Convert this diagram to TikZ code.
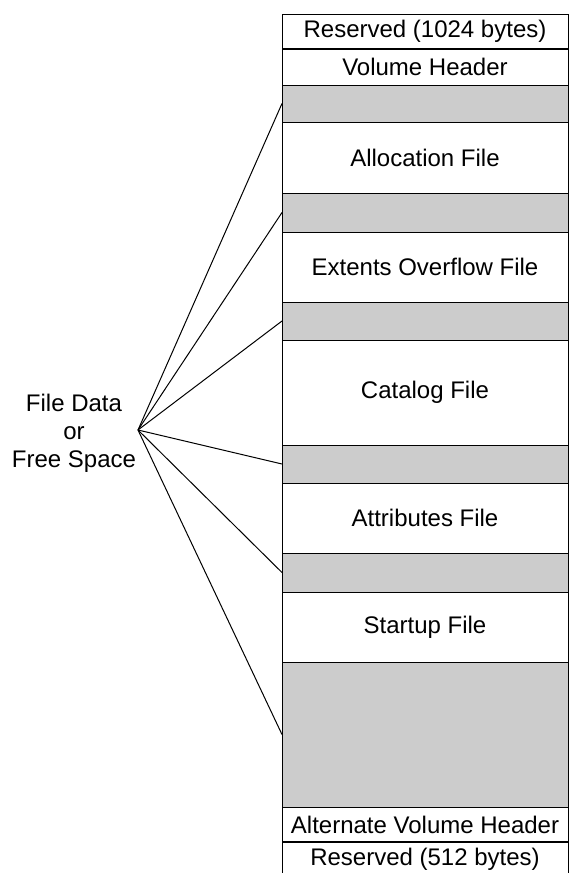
\documentclass[tikz,border=0pt]{standalone}
\usepackage{fontspec}
\setmainfont{Liberation Sans}
\definecolor{bandgrey}{RGB}{204,204,204}
\begin{document}
\begin{tikzpicture}[x=1pt,y=-1pt,
  band/.style={draw=black, line width=1pt, minimum width=286pt, anchor=north west,
    inner sep=0pt, outer sep=0pt, font=\fontsize{24}{28}\selectfont},
  free/.style={band, fill=bandgrey},
  used/.style={band, fill=white},
  link/.style={draw=black, line width=1pt}]
\useasboundingbox (0,0) rectangle (569,873);
\node[used, minimum height=35pt] (res1) at (282,14) {Reserved (1024 bytes)};
\node[used, minimum height=36pt] (vh) at (282,49) {Volume Header};
\node[free, minimum height=37pt] (g1) at (282,85) {};
\node[used, minimum height=71pt] (alloc) at (282,122) {Allocation File};
\node[free, minimum height=39pt] (g2) at (282,193) {};
\node[used, minimum height=70pt] (ext) at (282,232) {Extents Overflow File};
\node[free, minimum height=38pt] (g3) at (282,302) {};
\node[used, minimum height=105pt] (cat) at (282,340) {Catalog File};
\node[free, minimum height=38pt] (g4) at (282,445) {};
\node[used, minimum height=70pt] (attr) at (282,483) {Attributes File};
\node[free, minimum height=39pt] (g5) at (282,553) {};
\node[used, minimum height=70pt] (start) at (282,592) {Startup File};
\node[free, minimum height=145pt] (g6) at (282,662) {};
\node[used, minimum height=35pt] (avh) at (282,807) {Alternate Volume Header};
\node[used, minimum height=34pt] (res2) at (282,842) {Reserved (512 bytes)};
\draw[line width=2.2pt] (res1.south west) -- (res1.south east);
\draw[line width=2.2pt] (avh.south west) -- (avh.south east);
\node[align=center, inner sep=0pt, font=\fontsize{24}{28}\selectfont] (label) at (74,433) {File Data\\or\\Free Space};
\coordinate (hub) at (138,430);
\foreach \g in {g1,g2,g3,g4,g5,g6} {
  \draw[link] (hub) -- (\g.west);
}
\end{tikzpicture}
\end{document}
